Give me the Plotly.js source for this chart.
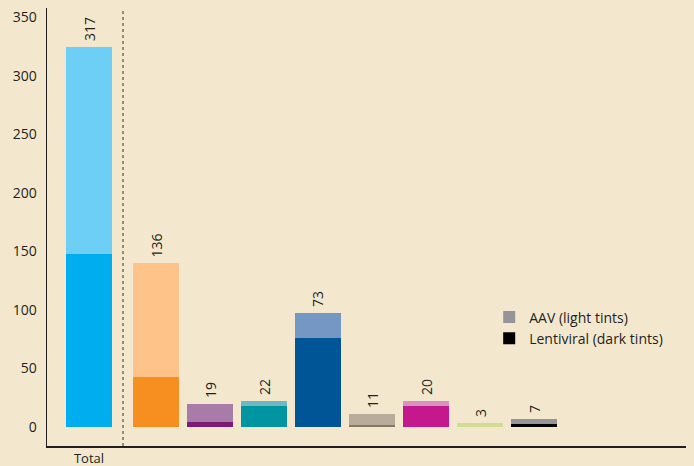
<!DOCTYPE html>
<html>
<head>
<meta charset="utf-8">
<script src="https://cdn.plot.ly/plotly-3.0.1.min.js"></script>
<style>html,body{margin:0;padding:0;background:#f3e7ce;}#chart{width:694px;height:466px;}</style>
</head>
<body>
<div id="chart"></div>
<script>
// Data
const categories = ['Total', 'A', 'B', 'C', 'D', 'E', 'F', 'G', 'H'];
const lentiValues = [147.7, 42.7, 4.3, 17.9, 76.0, 1.5, 17.9, 0, 2.6];
const aavValues   = [176.8, 97.0, 15.3, 4.3, 21.4, 9.6, 4.3, 3.4, 4.2];
const barLabels   = ['317', '136', '19', '22', '73', '11', '20', '3', '7'];
const xTickLabels = ['Total'];

const darkColors  = ['#00aeef', '#f68f1f', '#7c1a74', '#0095a0', '#005596', '#8a7560', '#c4198d', '#d2db92', '#000000'];
const lightColors = ['#6dcff6', '#fdc388', '#a87ca8', '#6cb9c4', '#7597c4', '#baac9b', '#da90c2', '#d2db92', '#939598'];

// positions: Total separated from the rest
const xPos = categories.map((c, i) => i === 0 ? 0 : 1.24 + (i - 1));

const traces = [
  {type: 'bar', x: [null], y: [null], name: 'AAV (light tints)', marker: {color: '#939598'}},
  {type: 'bar', x: [null], y: [null], name: 'Lentiviral (dark tints)', marker: {color: '#000000'}},
  {type: 'bar', x: xPos, y: lentiValues, marker: {color: darkColors}, width: 0.85, showlegend: false, hoverinfo: 'skip'},
  {type: 'bar', x: xPos, y: aavValues, marker: {color: lightColors}, width: 0.85, showlegend: false, hoverinfo: 'skip'}
];

const annotations = categories.map((c, i) => ({
  x: xPos[i], y: lentiValues[i] + aavValues[i], xref: 'x', yref: 'y',
  text: barLabels[i], textangle: -90, showarrow: false,
  yanchor: 'bottom', xanchor: 'center', yshift: 4,
  font: {family: 'Open Sans, sans-serif', size: 14, color: '#231f20'}
}));

const layout = {
  width: 694, height: 466,
  margin: {l: 47, r: 8, t: 8, b: 20},
  paper_bgcolor: '#f3e7ce', plot_bgcolor: '#f3e7ce',
  barmode: 'stack',
  font: {family: 'Open Sans, sans-serif', size: 14, color: '#231f20'},
  xaxis: {
    range: [-0.778, 11.056], showgrid: false, zeroline: false,
    showline: true, linecolor: '#231f20', linewidth: 1.5,
    tickmode: 'array', tickvals: [xPos[0]], ticktext: xTickLabels,
    ticks: '', ticklabelstandoff: 0,
    tickfont: {size: 13, color: '#231f20'}
  },
  yaxis: {
    range: [-16.2, 357.8], showgrid: false, zeroline: false,
    showline: true, linecolor: '#231f20', linewidth: 1.5,
    tickmode: 'linear', tick0: 0, dtick: 50, ticks: '',
    ticklabelstandoff: 6,
    tickfont: {size: 14, color: '#231f20'}
  },
  shapes: [{
    type: 'line', xref: 'x', yref: 'paper', x0: 0.63, x1: 0.63, y0: 0, y1: 1,
    line: {color: '#333333', width: 1, dash: 'dot'}
  }],
  annotations: annotations,
  legend: {
    x: 0.692, y: 0.33, xanchor: 'left', yanchor: 'top',
    traceorder: 'normal',
    bgcolor: 'rgba(0,0,0,0)', font: {size: 14, color: '#231f20'},
    itemwidth: 30, tracegroupgap: 0
  },
  showlegend: true
};

Plotly.newPlot('chart', traces, layout, {displayModeBar: false, staticPlot: true});
</script>
</body>
</html>
